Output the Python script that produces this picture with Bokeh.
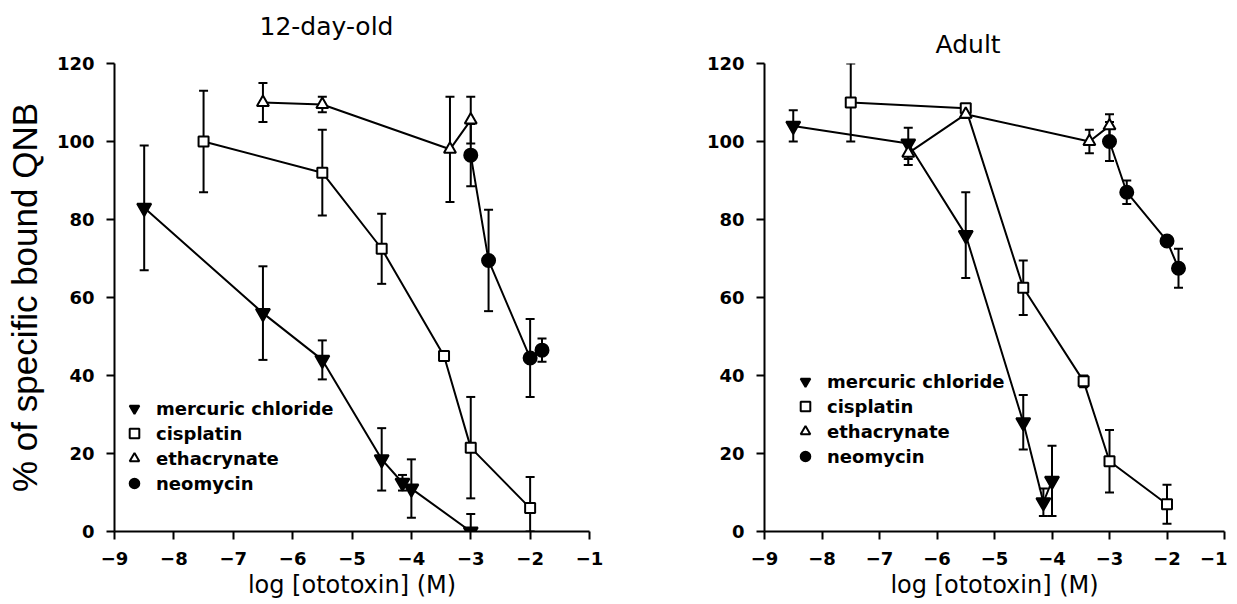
from bokeh.plotting import figure
from bokeh.models import ColumnDataSource, Whisker, TeeHead, FixedTicker, Legend, LegendItem, Range1d, Title
from bokeh.layouts import row
from bokeh.embed import file_html
from bokeh.resources import INLINE

# ---------------- data ----------------
x_ticks = [-9, -8, -7, -6, -5, -4, -3, -2, -1]
x_tick_labels = ["\u22129", "\u22128", "\u22127", "\u22126", "\u22125", "\u22124", "\u22123", "\u22122", "\u22121"]
y_ticks = [0, 20, 40, 60, 80, 100, 120]

series_names = ["mercuric chloride", "cisplatin", "ethacrynate", "neomycin"]
panel_titles = ["12-day-old", "Adult"]
x_label = "log [ototoxin] (M)"
y_label = "% of specific bound QNB"

# 12-day-old
young_mercuric_x = [-8.5, -6.5, -5.5, -4.5, -4.15, -4.0, -3.0]
young_mercuric_y = [83, 56, 44, 18.5, 12.5, 11, 0]
young_mercuric_err = [16, 12, 5, 8, 2, 7.5, 4.5]

young_cisplatin_x = [-7.5, -5.5, -4.5, -3.45, -3.0, -2.0]
young_cisplatin_y = [100, 92, 72.5, 45, 21.5, 6]
young_cisplatin_err = [13, 11, 9, 1, 13, 8]

young_ethacrynate_x = [-6.5, -5.5, -3.35, -3.0]
young_ethacrynate_y = [110, 109.5, 98, 105.5]
young_ethacrynate_err = [5, 2, 13.5, 6]

young_neomycin_x = [-3.0, -2.7, -2.0, -1.8]
young_neomycin_y = [96.5, 69.5, 44.5, 46.5]
young_neomycin_err = [8, 13, 10, 3]

# Adult
adult_mercuric_x = [-8.5, -6.5, -5.5, -4.5, -4.15, -4.0]
adult_mercuric_y = [104, 99.5, 76, 28, 7.5, 13]
adult_mercuric_err = [4, 4, 11, 7, 3.5, 9]

adult_cisplatin_x = [-7.5, -5.5, -4.5, -3.45, -3.0, -2.0]
adult_cisplatin_y = [110, 108.5, 62.5, 38.5, 18, 7]
adult_cisplatin_err = [10, 1, 7, 1.5, 8, 5]

adult_ethacrynate_x = [-6.5, -5.5, -3.35, -3.0]
adult_ethacrynate_y = [97, 107, 100, 104]
adult_ethacrynate_err = [3, 1, 3, 3]

adult_neomycin_x = [-3.0, -2.7, -2.0, -1.8]
adult_neomycin_y = [100, 87, 74.5, 67.5]
adult_neomycin_err = [5, 3, 0, 5]

young_data = [
    (young_mercuric_x, young_mercuric_y, young_mercuric_err),
    (young_cisplatin_x, young_cisplatin_y, young_cisplatin_err),
    (young_ethacrynate_x, young_ethacrynate_y, young_ethacrynate_err),
    (young_neomycin_x, young_neomycin_y, young_neomycin_err),
]
adult_data = [
    (adult_mercuric_x, adult_mercuric_y, adult_mercuric_err),
    (adult_cisplatin_x, adult_cisplatin_y, adult_cisplatin_err),
    (adult_ethacrynate_x, adult_ethacrynate_y, adult_ethacrynate_err),
    (adult_neomycin_x, adult_neomycin_y, adult_neomycin_err),
]

# ---------------- styles ----------------
MARKERS = {
    "mercuric chloride": dict(marker="inverted_triangle", size=14, fill_color="black"),
    "cisplatin": dict(marker="square", size=10, fill_color="white"),
    "ethacrynate": dict(marker="triangle", size=12, fill_color="white"),
    "neomycin": dict(marker="circle", size=13, fill_color="black"),
}
FONT = "DejaVu Sans"
FRAME_H = 468


def make_panel(data, title, frame_w, left, right, title_offset, title_gap,
               legend_loc, legend_standoff, show_ylabel):
    p = figure(frame_width=frame_w, frame_height=FRAME_H,
               x_range=Range1d(-9, -1), y_range=Range1d(0, 120),
               output_backend="svg", toolbar_location=None,
               min_border_left=left, min_border_right=right,
               min_border_top=63, min_border_bottom=73)
    p.outline_line_color = None
    p.xgrid.grid_line_color = None
    p.ygrid.grid_line_color = None
    p.background_fill_color = "white"
    p.border_fill_color = "white"

    p.title.text = ""
    p.title.standoff = 0
    # invisible spacer between frame and the panel title
    p.add_layout(Title(text=" ", text_font_size="1px", standoff=title_gap), "above")
    p.add_layout(Title(text=title, text_font=FONT, text_font_size="25px",
                       text_font_style="normal", text_color="black",
                       align="left", offset=title_offset, standoff=0), "above")

    for ax in (p.xaxis[0], p.yaxis[0]):
        ax.axis_line_width = 2
        ax.major_tick_line_width = 2
        ax.major_tick_out = 8
        ax.major_tick_in = 0
        ax.minor_tick_line_color = None
        ax.major_label_text_font = FONT
        ax.major_label_text_font_style = "bold"
        ax.major_label_text_font_size = "18px"
        ax.major_label_text_color = "black"
        ax.axis_line_color = "black"
        ax.major_tick_line_color = "black"

    p.xaxis.ticker = FixedTicker(ticks=x_ticks)
    p.xaxis.major_label_overrides = {float(t): lab for t, lab in zip(x_ticks, x_tick_labels)}
    p.xaxis.major_label_standoff = 12
    p.xaxis.axis_label = x_label
    p.xaxis.axis_label_text_font = FONT
    p.xaxis.axis_label_text_font_size = "24px"
    p.xaxis.axis_label_text_font_style = "normal"
    p.xaxis.axis_label_text_color = "black"
    p.xaxis.axis_label_standoff = 3

    p.yaxis.ticker = FixedTicker(ticks=y_ticks)
    p.yaxis.major_label_standoff = 12
    if show_ylabel:
        p.yaxis.axis_label = y_label
        p.yaxis.axis_label_text_font = "Liberation Sans"
        p.yaxis.axis_label_text_font_size = "35px"
        p.yaxis.axis_label_text_font_style = "normal"
        p.yaxis.axis_label_text_color = "black"
        p.yaxis.axis_label_standoff = 10

    items = []
    for name, (xs, ys, errs) in zip(series_names, data):
        src_w = ColumnDataSource(dict(
            x=[x for x, e in zip(xs, errs) if e > 0],
            upper=[y + e for y, e in zip(ys, errs) if e > 0],
            lower=[max(0, y - e) for y, e in zip(ys, errs) if e > 0],
        ))
        w = Whisker(base="x", upper="upper", lower="lower", source=src_w,
                    line_width=2, line_color="black",
                    upper_head=TeeHead(size=9, line_width=2, line_color="black"),
                    lower_head=TeeHead(size=9, line_width=2, line_color="black"))
        p.add_layout(w)
        p.line(xs, ys, line_width=2, line_color="black")

    for name, (xs, ys, errs) in zip(series_names, data):
        st = MARKERS[name]
        r = p.scatter(xs, ys, marker=st["marker"], size=st["size"],
                      fill_color=st["fill_color"], line_color="black", line_width=2)
        items.append(LegendItem(label=name, renderers=[r]))

    legend = Legend(items=items, location=legend_loc,
                    label_text_font=FONT, label_text_font_style="bold",
                    label_text_font_size="18px", label_text_color="black",
                    label_standoff=legend_standoff,
                    glyph_width=24, glyph_height=24, spacing=1,
                    label_height=24,
                    padding=0, margin=0, border_line_color=None,
                    background_fill_alpha=0)
    p.add_layout(legend)
    return p


p1 = make_panel(young_data, panel_titles[0], frame_w=475, left=114, right=57,
                title_offset=145, title_gap=20, legend_loc=(8, 36),
                legend_standoff=10, show_ylabel=True)
p2 = make_panel(adult_data, panel_titles[1], frame_w=460, left=118, right=3,
                title_offset=171, title_gap=2, legend_loc=(29, 63),
                legend_standoff=10, show_ylabel=False)

layout = row(p1, p2)
open("out.html", "w").write(file_html(layout, INLINE))
